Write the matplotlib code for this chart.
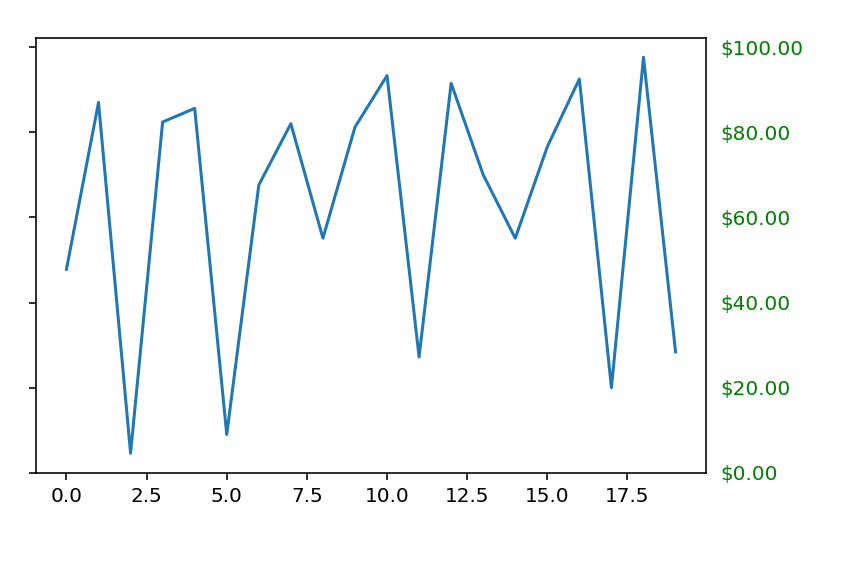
import numpy as np
import matplotlib
matplotlib.use("Agg")
import matplotlib.pyplot as plt
import matplotlib.ticker as mticker

# values
x = list(range(20))
prices = [47.8, 87.0, 4.6, 82.4, 85.6, 9.0, 67.6, 82.0, 55.1, 81.2,
          93.3, 27.2, 91.5, 70.0, 55.1, 76.6, 92.5, 20.0, 97.6, 28.4]

W, H, DPI = 842, 572, 144
fig = plt.figure(figsize=(W / DPI, H / DPI), dpi=DPI)
ax = fig.add_axes([36 / W, 1 - 473 / H, (706 - 36) / W, (473 - 37.5) / H])

ax.plot(x, prices, color='#1f77b4', lw=1.5)

# dollar labels on the right, in green
ax.yaxis.set_major_formatter(mticker.StrMethodFormatter('${x:1.2f}'))
ax.yaxis.set_tick_params(which='major', labelcolor='green',
                         labelleft=False, labelright=True)

fig.savefig("out.png", dpi=DPI)
